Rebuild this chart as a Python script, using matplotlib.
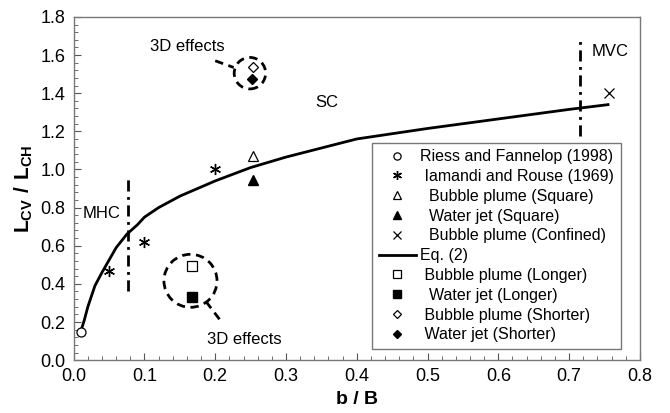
import matplotlib
matplotlib.use("Agg")
import matplotlib.pyplot as plt
from matplotlib.patches import Ellipse
from matplotlib.ticker import MultipleLocator, FormatStrFormatter

plt.rcParams['font.family'] = ['Liberation Sans', 'DejaVu Sans']
plt.rcParams['mathtext.fontset'] = 'custom'
plt.rcParams['mathtext.rm'] = 'Liberation Sans'
plt.rcParams['mathtext.bf'] = 'Liberation Sans:bold'

# Data
riess_x = [0.01]; riess_y = [0.15]
iamandi_x = [0.05, 0.10, 0.20]; iamandi_y = [0.47, 0.62, 1.00]
bp_square_x = [0.253]; bp_square_y = [1.07]
wj_square_x = [0.253]; wj_square_y = [0.947]
bp_conf_x = [0.757]; bp_conf_y = [1.40]
eq2_x = [0.01, 0.015, 0.02, 0.03, 0.04, 0.05, 0.06, 0.075, 0.09, 0.10, 0.12, 0.15,
         0.20, 0.25, 0.30, 0.40, 0.50, 0.60, 0.70, 0.755]
eq2_y = [0.15, 0.21, 0.28, 0.39, 0.46, 0.525, 0.59, 0.66, 0.71, 0.75, 0.80, 0.86,
         0.94, 1.01, 1.065, 1.16, 1.215, 1.265, 1.315, 1.34]
bp_long_x = [0.167]; bp_long_y = [0.496]
wj_long_x = [0.167]; wj_long_y = [0.333]
bp_short_x = [0.253]; bp_short_y = [1.54]
wj_short_x = [0.252]; wj_short_y = [1.474]
mhc_x = 0.0765; mhc_y = (0.36, 0.97)
mvc_x = 0.715; mvc_y = (1.175, 1.70)

fig = plt.figure(figsize=(6.7, 4.13), dpi=100)
ax = fig.add_axes([0.110, 0.128, 0.845, 0.831])

ms = 6.5
h1, = ax.plot(riess_x, riess_y, 'o', mfc='white', mec='black', ms=ms, mew=0.9, zorder=5,
              label='Riess and Fannelop (1998)')
h2, = ax.plot(iamandi_x, iamandi_y, ls='none', marker=(6, 2, 0), color='black', ms=8, mew=1.0,
              label=' Iamandi and Rouse (1969)')
h3, = ax.plot(bp_square_x, bp_square_y, '^', mfc='white', mec='black', ms=ms, mew=0.9,
              label='  Bubble plume (Square)')
h4, = ax.plot(wj_square_x, wj_square_y, '^', color='black', ms=ms,
              label='  Water jet (Square)')
h5, = ax.plot(bp_conf_x, bp_conf_y, 'x', color='black', ms=ms, mew=0.9,
              label='  Bubble plume (Confined)')
h6, = ax.plot(eq2_x, eq2_y, '-', color='black', lw=2, label='Eq. (2)')
h7, = ax.plot(bp_long_x, bp_long_y, 's', mfc='white', mec='black', ms=ms, mew=0.9,
              label=' Bubble plume (Longer)')
h8, = ax.plot(wj_long_x, wj_long_y, 's', color='black', ms=ms,
              label='  Water jet (Longer)')
h9, = ax.plot(bp_short_x, bp_short_y, 'D', mfc='white', mec='black', ms=5, mew=0.9,
              label=' Bubble plume (Shorter)')
h10, = ax.plot(wj_short_x, wj_short_y, 'D', color='black', ms=5,
               label=' Water jet (Shorter)')

# regime boundaries
ax.plot([mhc_x, mhc_x], mhc_y, color='black', lw=2, ls=(0, (4, 2, 1, 2)))
ax.plot([mvc_x, mvc_x], mvc_y, color='black', lw=2, ls=(0, (4, 2, 1, 2)))

# dashed circles
ax.add_patch(Ellipse((0.249, 1.505), 0.0444, 0.165, fill=False, ec='black', lw=2, ls=(0, (3, 2))))
ax.add_patch(Ellipse((0.165, 0.416), 0.075, 0.278, fill=False, ec='black', lw=2, ls=(0, (3, 2))))
ax.plot([0.200, 0.226], [1.57, 1.535], color='black', lw=2, ls=(0, (3, 2)))
ax.plot([0.187, 0.209], [0.307, 0.20], color='black', lw=2, ls=(0, (3, 2)))

tfs = 12
ax.text(0.161, 1.645, '3D effects', fontsize=tfs, ha='center', va='center')
ax.text(0.241, 0.11, '3D effects', fontsize=tfs, ha='center', va='center')
ax.text(0.039, 0.77, 'MHC', fontsize=tfs, ha='center', va='center')
ax.text(0.758, 1.62, 'MVC', fontsize=tfs, ha='center', va='center')
ax.text(0.358, 1.35, 'SC', fontsize=tfs, ha='center', va='center')

ax.set_xlim(0, 0.8)
ax.set_ylim(0, 1.8)
ax.xaxis.set_major_locator(MultipleLocator(0.1))
ax.xaxis.set_minor_locator(MultipleLocator(0.02))
ax.yaxis.set_major_locator(MultipleLocator(0.2))
ax.yaxis.set_minor_locator(MultipleLocator(0.04))
ax.xaxis.set_major_formatter(FormatStrFormatter('%.1f'))
ax.yaxis.set_major_formatter(FormatStrFormatter('%.1f'))
ax.tick_params(which='both', direction='in', labelsize=13, color='#555555')
ax.tick_params(which='major', length=5, pad=6)
ax.tick_params(which='minor', length=3)
for s in ax.spines.values():
    s.set_color('#777777')
    s.set_linewidth(1.0)

ax.set_xlabel('b / B', fontsize=14, fontweight='bold', labelpad=4)
ax.set_ylabel(r'$\mathbf{L_{CV}\ /\ L_{CH}}$', fontsize=15, labelpad=4)

leg = ax.legend(handles=[h1, h2, h3, h4, h5, h6, h7, h8, h9, h10],
                loc='upper right', bbox_to_anchor=(0.966, 0.633), borderaxespad=0,
                fontsize=11.5, labelspacing=0.3, handlelength=2.3, handletextpad=0.3,
                borderpad=0.4, fancybox=False, framealpha=1, edgecolor='#777777',
                markerscale=0.8)
leg.get_frame().set_linewidth(1.0)

fig.savefig('out.png', dpi=100)
